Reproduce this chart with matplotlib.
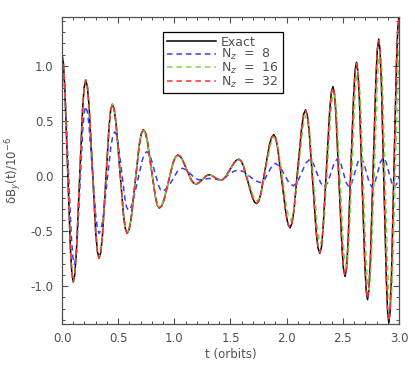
import matplotlib
matplotlib.use('Agg')
import matplotlib.pyplot as plt
from matplotlib.ticker import MultipleLocator, FormatStrFormatter

# valores (t en orbitas, dBy en unidades de 1e-6)
t_exact = [0.000, 0.0125, 0.025, 0.050, 0.075, 0.0875,
           0.100, 0.114, 0.128, 0.156, 0.183, 0.197,
           0.211, 0.226, 0.241, 0.271, 0.300, 0.315,
           0.330, 0.345, 0.360, 0.389, 0.419, 0.433,
           0.448, 0.4645, 0.481, 0.514, 0.547, 0.5635,
           0.580, 0.598, 0.616, 0.652, 0.688, 0.706,
           0.724, 0.742, 0.760, 0.795, 0.831, 0.848,
           0.866, 0.8865, 0.907, 0.948, 0.989, 1.0095,
           1.030, 1.050, 1.070, 1.110, 1.150, 1.170,
           1.190, 1.205, 1.220, 1.250, 1.280, 1.295,
           1.310, 1.323, 1.336, 1.362, 1.387, 1.400,
           1.413, 1.433, 1.454, 1.494, 1.535, 1.555,
           1.575, 1.595, 1.615, 1.654, 1.694, 1.713,
           1.733, 1.752, 1.771, 1.809, 1.847, 1.866,
           1.885, 1.903, 1.921, 1.958, 1.994, 2.012,
           2.030, 2.047, 2.065, 2.099, 2.134, 2.151,
           2.168, 2.184, 2.200, 2.232, 2.263, 2.279,
           2.295, 2.310, 2.324, 2.354, 2.383, 2.397,
           2.412, 2.4255, 2.439, 2.466, 2.493, 2.5065,
           2.520, 2.533, 2.546, 2.571, 2.597, 2.609,
           2.622, 2.634, 2.647, 2.671, 2.696, 2.708,
           2.720, 2.7325, 2.745, 2.770, 2.795, 2.8075,
           2.820, 2.831, 2.843, 2.865, 2.888, 2.899,
           2.910, 2.921, 2.933, 2.955, 2.978, 2.989,
           3.000]
b_exact = [1.100, 1.022, 0.798, 0.070, -0.658, -0.882,
           -0.960, -0.890, -0.692, -0.045, 0.602, 0.800,
           0.870, 0.809, 0.633, 0.063, -0.508, -0.684,
           -0.745, -0.692, -0.541, -0.048, 0.446, 0.597,
           0.650, 0.606, 0.479, 0.065, -0.349, -0.476,
           -0.520, -0.484, -0.382, -0.050, 0.282, 0.384,
           0.420, 0.393, 0.316, 0.065, -0.186, -0.263,
           -0.290, -0.272, -0.220, -0.050, 0.120, 0.172,
           0.190, 0.180, 0.152, 0.059, -0.034, -0.062,
           -0.072, -0.069, -0.060, -0.031, -0.002, 0.007,
           0.010, 0.008, 0.003, -0.014, -0.031, -0.036,
           -0.038, -0.031, -0.010, 0.057, 0.124, 0.145,
           0.152, 0.137, 0.093, -0.049, -0.191, -0.235,
           -0.250, -0.226, -0.159, 0.063, 0.284, 0.351,
           0.375, 0.343, 0.251, -0.048, -0.346, -0.438,
           -0.470, -0.429, -0.313, 0.065, 0.443, 0.559,
           0.600, 0.551, 0.410, -0.050, -0.510, -0.651,
           -0.700, -0.643, -0.479, 0.055, 0.589, 0.753,
           0.810, 0.745, 0.558, -0.050, -0.658, -0.845,
           -0.910, -0.836, -0.626, 0.060, 0.746, 0.956,
           1.030, 0.948, 0.715, -0.045, -0.805, -1.038,
           -1.120, -1.030, -0.774, 0.060, 0.894, 1.150,
           1.240, 1.142, 0.863, -0.045, -0.953, -1.232,
           -1.330, -1.225, -0.924, 0.055, 1.034, 1.335,
           1.440]

# Nz = 32 (casi encima de la exacta), mismos tiempos
b_nz32 = [1.100, 1.022, 0.798, 0.070, -0.658, -0.882,
          -0.960, -0.890, -0.692, -0.045, 0.602, 0.800,
          0.870, 0.809, 0.633, 0.063, -0.508, -0.684,
          -0.745, -0.692, -0.541, -0.048, 0.446, 0.597,
          0.650, 0.606, 0.479, 0.065, -0.349, -0.476,
          -0.520, -0.484, -0.382, -0.050, 0.282, 0.384,
          0.420, 0.393, 0.316, 0.065, -0.186, -0.263,
          -0.290, -0.272, -0.220, -0.050, 0.120, 0.172,
          0.190, 0.180, 0.152, 0.059, -0.034, -0.062,
          -0.072, -0.069, -0.060, -0.031, -0.002, 0.007,
          0.010, 0.008, 0.003, -0.014, -0.031, -0.036,
          -0.038, -0.031, -0.010, 0.057, 0.124, 0.145,
          0.150, 0.136, 0.092, -0.048, -0.189, -0.233,
          -0.247, -0.224, -0.157, 0.062, 0.281, 0.348,
          0.371, 0.340, 0.248, -0.047, -0.342, -0.434,
          -0.465, -0.425, -0.310, 0.064, 0.438, 0.553,
          0.594, 0.546, 0.406, -0.049, -0.505, -0.645,
          -0.693, -0.637, -0.474, 0.054, 0.583, 0.746,
          0.802, 0.738, 0.552, -0.049, -0.651, -0.837,
          -0.900, -0.828, -0.619, 0.059, 0.738, 0.946,
          1.019, 0.939, 0.707, -0.044, -0.796, -1.028,
          -1.107, -1.020, -0.765, 0.059, 0.884, 1.139,
          1.226, 1.131, 0.853, -0.044, -0.942, -1.220,
          -1.314, -1.213, -0.913, 0.054, 1.021, 1.322,
          1.420]

# Nz = 16
t_nz16 = [0.000, 0.0125, 0.025, 0.050, 0.075, 0.0875,
          0.100, 0.114, 0.128, 0.156, 0.183, 0.197,
          0.211, 0.226, 0.241, 0.271, 0.300, 0.315,
          0.330, 0.345, 0.360, 0.389, 0.419, 0.433,
          0.448, 0.4645, 0.481, 0.514, 0.547, 0.5635,
          0.580, 0.598, 0.616, 0.652, 0.688, 0.706,
          0.724, 0.742, 0.760, 0.795, 0.831, 0.848,
          0.866, 0.8865, 0.907, 0.948, 0.989, 1.0095,
          1.030, 1.050, 1.070, 1.110, 1.150, 1.170,
          1.190, 1.205, 1.220, 1.250, 1.280, 1.295,
          1.310, 1.323, 1.336, 1.362, 1.387, 1.400,
          1.413, 1.434, 1.454, 1.495, 1.537, 1.557,
          1.578, 1.598, 1.618, 1.658, 1.698, 1.718,
          1.738, 1.757, 1.776, 1.814, 1.852, 1.871,
          1.890, 1.908, 1.927, 1.964, 2.000, 2.019,
          2.037, 2.054, 2.072, 2.106, 2.141, 2.158,
          2.175, 2.191, 2.207, 2.239, 2.271, 2.287,
          2.303, 2.318, 2.333, 2.362, 2.392, 2.406,
          2.421, 2.435, 2.448, 2.476, 2.503, 2.516,
          2.530, 2.543, 2.556, 2.582, 2.607, 2.620,
          2.633, 2.645, 2.658, 2.682, 2.707, 2.719,
          2.731, 2.744, 2.756, 2.782, 2.807, 2.819,
          2.832, 2.843, 2.855, 2.877, 2.900, 2.911,
          2.922, 2.933, 2.945, 2.967, 2.990, 3.000]
b_nz16 = [1.100, 1.022, 0.798, 0.070, -0.658, -0.882,
          -0.960, -0.890, -0.692, -0.045, 0.602, 0.800,
          0.868, 0.807, 0.632, 0.063, -0.506, -0.682,
          -0.742, -0.689, -0.539, -0.048, 0.444, 0.594,
          0.646, 0.602, 0.476, 0.065, -0.347, -0.473,
          -0.515, -0.480, -0.378, -0.050, 0.278, 0.380,
          0.414, 0.388, 0.311, 0.064, -0.182, -0.259,
          -0.284, -0.267, -0.215, -0.049, 0.117, 0.168,
          0.185, 0.175, 0.148, 0.058, -0.033, -0.060,
          -0.070, -0.067, -0.058, -0.030, -0.002, 0.006,
          0.009, 0.007, 0.003, -0.014, -0.030, -0.035,
          -0.038, -0.031, -0.011, 0.055, 0.121, 0.141,
          0.148, 0.134, 0.093, -0.039, -0.170, -0.211,
          -0.225, -0.203, -0.141, 0.063, 0.266, 0.328,
          0.350, 0.322, 0.240, -0.025, -0.290, -0.372,
          -0.400, -0.364, -0.261, 0.075, 0.411, 0.514,
          0.550, 0.506, 0.380, -0.030, -0.440, -0.566,
          -0.610, -0.558, -0.411, 0.070, 0.551, 0.698,
          0.750, 0.690, 0.520, -0.035, -0.590, -0.760,
          -0.820, -0.753, -0.561, 0.065, 0.691, 0.883,
          0.950, 0.875, 0.660, -0.040, -0.740, -0.955,
          -1.030, -0.948, -0.714, 0.050, 0.814, 1.048,
          1.130, 1.042, 0.790, -0.030, -0.850, -1.102,
          -1.190, -1.098, -0.835, 0.020, 0.875, 1.150]

# Nz = 8
t_nz8 = [0.000, 0.01375, 0.0275, 0.055, 0.0825, 0.09625,
         0.110, 0.1225, 0.135, 0.160, 0.185, 0.1975,
         0.210, 0.225, 0.240, 0.270, 0.300, 0.315,
         0.330, 0.3475, 0.365, 0.400, 0.435, 0.4525,
         0.470, 0.485, 0.500, 0.530, 0.560, 0.575,
         0.590, 0.6106, 0.631, 0.673, 0.714, 0.7344,
         0.755, 0.7725, 0.790, 0.825, 0.860, 0.8775,
         0.895, 0.939, 0.983, 1.026,
         1.070, 1.108, 1.145, 1.183,
         1.220, 1.265, 1.310, 1.355,
         1.400, 1.443, 1.485, 1.528,
         1.570, 1.620, 1.670, 1.720,
         1.770, 1.803, 1.835, 1.868,
         1.900, 1.940, 1.980, 2.020,
         2.060, 2.096, 2.133, 2.169,
         2.205, 2.238, 2.270, 2.303,
         2.335, 2.365, 2.395, 2.425,
         2.455, 2.480, 2.505, 2.530,
         2.555, 2.581, 2.608, 2.634,
         2.660, 2.685, 2.710, 2.735,
         2.760, 2.785, 2.810, 2.835,
         2.860, 2.885, 2.910, 2.935,
         2.960, 2.980, 3.000]
b_nz8 = [1.000, 0.932, 0.736, 0.100, -0.536, -0.732,
         -0.800, -0.746, -0.591, -0.085, 0.421, 0.576,
         0.630, 0.586, 0.462, 0.055, -0.352, -0.476,
         -0.520, -0.485, -0.385, -0.060, 0.265, 0.365,
         0.400, 0.373, 0.296, 0.045, -0.206, -0.283,
         -0.310, -0.290, -0.232, -0.045, 0.142, 0.200,
         0.220, 0.206, 0.167, 0.040, -0.087, -0.126,
         -0.140, -0.109, -0.035, 0.039,
         0.070, 0.055, 0.018, -0.020,
         -0.035, -0.029, -0.022, -0.027,
         -0.032, -0.019, 0.012, 0.042,
         0.055, 0.038, -0.003, -0.043,
         -0.060, -0.034, 0.028, 0.089,
         0.115, 0.085, 0.013, -0.060,
         -0.090, -0.055, 0.030, 0.115,
         0.150, 0.113, 0.025, -0.063,
         -0.100, -0.062, 0.030, 0.122,
         0.160, 0.122, 0.030, -0.062,
         -0.100, -0.061, 0.033, 0.126,
         0.165, 0.126, 0.033, -0.061,
         -0.100, -0.061, 0.033, 0.126,
         0.165, 0.126, 0.033, -0.061,
         -0.100, -0.070, -0.010]

etiquetas = ['Exact', 'N$_z$  =  8', 'N$_z$  =  16', 'N$_z$  =  32']

plt.rcParams['font.family'] = 'DejaVu Sans'
plt.rcParams['mathtext.fontset'] = 'dejavusans'
plt.rcParams['axes.unicode_minus'] = False
gris = '#505050'

fig = plt.figure(figsize=(4.15, 3.69), dpi=100)
ax = fig.add_axes([0.1494, 0.122, 0.812, 0.832])

discont = (3.6, 2.6)
ax.plot(t_exact, b_exact, color='black', lw=1.1, label=etiquetas[0])
ax.plot(t_nz8, b_nz8, color='#3a3aff', lw=1.1, dashes=discont, label=etiquetas[1])
ax.plot(t_nz16, b_nz16, color='#7ad84a', lw=1.1, dashes=discont, label=etiquetas[2])
ax.plot(t_exact, b_nz32, color='#ff3030', lw=1.1, dashes=discont, label=etiquetas[3])

ax.set_xlim(0, 3.0)
ax.set_ylim(-1.34, 1.44)

ax.xaxis.set_major_locator(MultipleLocator(0.5))
ax.xaxis.set_minor_locator(MultipleLocator(0.1))
ax.yaxis.set_major_locator(MultipleLocator(0.5))
ax.yaxis.set_minor_locator(MultipleLocator(0.1))
ax.xaxis.set_major_formatter(FormatStrFormatter('%.1f'))
ax.yaxis.set_major_formatter(FormatStrFormatter('%.1f'))

ax.tick_params(which='both', direction='in', top=True, right=True,
               colors=gris, labelsize=8.5, labelcolor=gris)
ax.tick_params(which='major', length=4.5, width=0.8, pad=6)
ax.tick_params(which='minor', length=2.3, width=0.7)
for s in ax.spines.values():
    s.set_color(gris)
    s.set_linewidth(0.9)

ax.set_xlabel('t (orbits)', fontsize=8.5, color=gris, labelpad=2)
ax.set_ylabel('δB$_y$(t)/10$^{-6}$', fontsize=8.5, color=gris, labelpad=5)

leg = ax.legend(loc='upper left', bbox_to_anchor=(0.30, 0.951), fontsize=9,
                handlelength=3.9, handletextpad=0.45, labelspacing=-0.12,
                borderpad=0.3, borderaxespad=0, fancybox=False,
                framealpha=1, edgecolor='black')
leg.get_frame().set_linewidth(0.9)
for txt in leg.get_texts():
    txt.set_color(gris)

fig.savefig('out.png', dpi=100)
